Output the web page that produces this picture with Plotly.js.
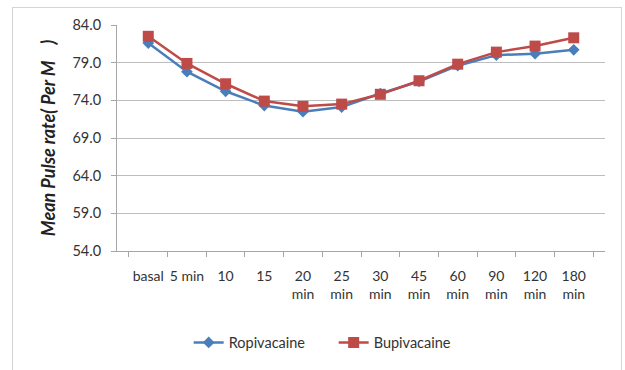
<!DOCTYPE html>
<html>
<head>
<meta charset="utf-8">
<script src="https://cdn.plot.ly/plotly-3.0.1.min.js"></script>
<style>
  html, body { margin: 0; padding: 0; background: #fff; }
  #wrap { position: relative; width: 625px; height: 370px; }
  #frame { position: absolute; left: 12px; top: 7px; width: 610px; height: 375px;
           border: 1.5px solid #d4d4d4; box-sizing: border-box; pointer-events: none; }
  #chart { position: absolute; left: 0; top: 0; width: 625px; height: 370px; }
</style>
</head>
<body>
<div id="wrap">
  <div id="chart"></div>
  <div id="frame"></div>
</div>
<script>
// Time points of measurement
const timePoints = ["basal", "5 min", "10", "15", "20<br>min", "25<br>min", "30<br>min",
                    "45<br>min", "60<br>min", "90<br>min", "120<br>min", "180<br>min"];

// Mean pulse rate per minute for each group
const ropivacaine = [81.6, 77.8, 75.2, 73.3, 72.5, 73.1, 74.9, 76.5, 78.6, 80.0, 80.2, 80.7];
const bupivacaine = [82.5, 78.9, 76.2, 73.9, 73.2, 73.5, 74.8, 76.6, 78.8, 80.4, 81.2, 82.3];

const yTicks = [54, 59, 64, 69, 74, 79, 84];

const font = "Lato, 'Open Sans', sans-serif";

const traces = [
  {
    name: "Ropivacaine",
    x: timePoints, y: ropivacaine,
    type: "scatter", mode: "lines+markers",
    line: { color: "#4a7ebb", width: 2.5 },
    marker: { symbol: "diamond", size: 9, color: "#4a7ebb" }
  },
  {
    name: "Bupivacaine",
    x: timePoints, y: bupivacaine,
    type: "scatter", mode: "lines+markers",
    line: { color: "#be4b48", width: 2.5 },
    marker: { symbol: "square", size: 11, color: "#be4b48" }
  }
];

const layout = {
  width: 625, height: 370,
  margin: { l: 117, r: 20, t: 25, b: 114 },
  paper_bgcolor: "#ffffff", plot_bgcolor: "#ffffff",
  font: { family: font, size: 14, color: "#333333" },
  showlegend: true,
  legend: {
    orientation: "h", x: 0.444, xanchor: "center", y: -0.405, yanchor: "middle",
    font: { family: font, size: 14.5, color: "#333333" },
    itemwidth: 30,
    entrywidth: 100
  },
  xaxis: {
    type: "category",
    tickangle: 0,
    showgrid: false,
    showline: true, linecolor: "#a6a6a6", linewidth: 1,
    ticks: "outside", ticklen: 5, tickcolor: "#a6a6a6",
    tickson: "boundaries",
    ticklabelstandoff: 12,
    tickfont: { family: font, size: 14, color: "#333333" },
    zeroline: false
  },
  yaxis: {
    range: [54, 84],
    tickvals: yTicks,
    tickformat: ".1f",
    showgrid: true, gridcolor: "#bdbdbd", gridwidth: 1,
    showline: true, linecolor: "#a6a6a6", linewidth: 1,
    ticks: "outside", ticklen: 5, tickcolor: "#a6a6a6",
    ticklabelstandoff: 7,
    tickfont: { family: font, size: 14.5, color: "#333333" },
    zeroline: false,
    title: {
      text: "<b><i>Mean Pulse rate( Per M\u00a0\u00a0\u00a0\u00a0)</i></b>",
      font: { family: font, size: 18, color: "#222222" },
      standoff: 12
    }
  }
};

Plotly.newPlot("chart", traces, layout, { displayModeBar: false, staticPlot: true });
</script>
</body>
</html>
